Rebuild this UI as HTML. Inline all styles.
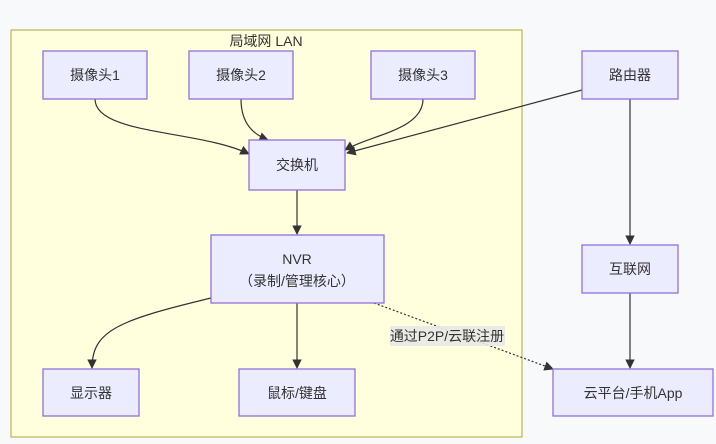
<!DOCTYPE html>
<html><head><meta charset="utf-8"><style>
body{margin:0;background:#f8f9fb;}
svg{display:block}
text{font-family:"Liberation Sans","Noto Sans CJK SC",sans-serif;font-size:14px;fill:#333;}
.n{fill:#ececff;stroke:#9370db;stroke-width:1.3}
.e{fill:none;stroke:#333;stroke-width:1.2}
</style></head><body>
<svg width="716" height="444" viewBox="0 0 716 444">
<defs><marker id="a" viewBox="0 0 10 10" refX="9" refY="5" markerWidth="8" markerHeight="8" orient="auto"><path d="M0,0L10,5L0,10z" fill="#333"/></marker></defs>
<rect x="11" y="30" width="511" height="407" fill="#ffffde" stroke="#aaaa33"/>
<text x="266" y="46" text-anchor="middle">局域网 LAN</text>
<path class="e" d="M95,99 C95,135 200,130 249,154" marker-end="url(#a)"/>
<path class="e" d="M241,99 C241,125 255,135 268,140" marker-end="url(#a)"/>
<path class="e" d="M423,99 C423,130 370,135 345,150" marker-end="url(#a)"/>
<path class="e" d="M582,90 L347,153" marker-end="url(#a)"/>
<path class="e" d="M297,190 L297,234" marker-end="url(#a)"/>
<path class="e" d="M630,99 L630,244" marker-end="url(#a)"/>
<path class="e" d="M630,293 L630,368" marker-end="url(#a)"/>
<path class="e" d="M297,303 L297,368" marker-end="url(#a)"/>
<path class="e" d="M211,298 C120,320 92,330 92,368" marker-end="url(#a)"/>
<path class="e" d="M374,303 L553,369" stroke-dasharray="2,2" marker-end="url(#a)"/>
<rect x="390" y="326" width="115" height="20" fill="#e8e8e8" opacity="0.9"/>
<text x="447" y="341" text-anchor="middle">通过P2P/云联注册</text>
<rect class="n" x="43" y="51" width="104" height="48"/><text x="95" y="80" text-anchor="middle">摄像头1</text>
<rect class="n" x="189" y="51" width="104" height="48"/><text x="241" y="80" text-anchor="middle">摄像头2</text>
<rect class="n" x="371" y="51" width="104" height="48"/><text x="423" y="80" text-anchor="middle">摄像头3</text>
<rect class="n" x="582" y="51" width="96" height="48"/><text x="630" y="80" text-anchor="middle">路由器</text>
<rect class="n" x="249" y="140" width="96" height="50"/><text x="297" y="170" text-anchor="middle">交换机</text>
<rect class="n" x="211" y="235" width="173" height="68"/><text x="297" y="264" text-anchor="middle">NVR</text><text x="297" y="286" text-anchor="middle">（录制/管理核心）</text>
<rect class="n" x="582" y="245" width="96" height="48"/><text x="630" y="274" text-anchor="middle">互联网</text>
<rect class="n" x="43" y="369" width="96" height="47"/><text x="91" y="398" text-anchor="middle">显示器</text>
<rect class="n" x="239" y="369" width="116" height="47"/><text x="297" y="398" text-anchor="middle">鼠标/键盘</text>
<rect class="n" x="553" y="369" width="160" height="47"/><text x="633" y="398" text-anchor="middle">云平台/手机App</text>
</svg>
</body></html>
